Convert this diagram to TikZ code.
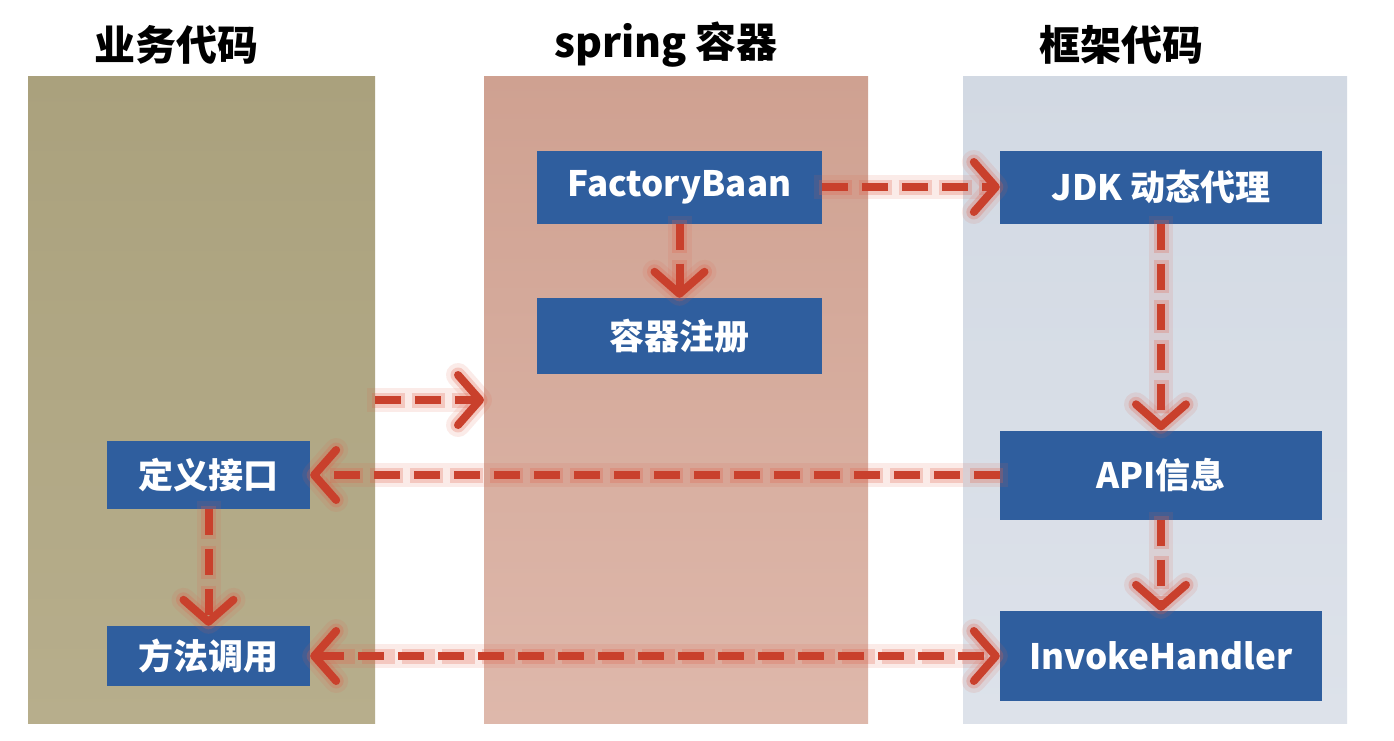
\documentclass[tikz,border=0pt]{standalone}
\usepackage{fontspec}
\newfontfamily\cjk{Noto Sans CJK SC}
\usetikzlibrary{arrows.meta}
\definecolor{boxblue}{HTML}{2F5E9E}
\definecolor{arrred}{HTML}{C9402C}
\definecolor{glowred}{HTML}{E0604A}
\tikzset{
  bluebox/.style={fill=boxblue, text=white, inner sep=0pt, font=\cjk\bfseries\fontsize{35}{40}\selectfont},
  title/.style={text=black, font=\cjk\bfseries\fontsize{41}{46}\selectfont},
  arr/.style={draw=arrred, line width=8pt, dash pattern=on 26pt off 14pt,
    preaction={draw=glowred, line width=24pt, opacity=0.12, solid,
      shorten >=-8pt, shorten <=-8pt},
    preaction={draw=glowred, line width=15pt, opacity=0.25, dash pattern=on 33pt off 7pt,
      shorten >=-3.5pt, shorten <=-3.5pt}},
  tip/.tip={Straight Barb[length=22pt,width=50pt,round]}
}
\begin{document}
\begin{tikzpicture}[x=1pt,y=-1pt]
\useasboundingbox (0,0) rectangle (1394,740);
\fill[white] (0,0) rectangle (1394,740);
% columns
\shade[top color={rgb,255:red,170;green,161;blue,125}, bottom color={rgb,255:red,183;green,174;blue,140}] (28,76) rectangle (375,723);
\shade[top color={rgb,255:red,207;green,161;blue,145}, bottom color={rgb,255:red,222;green,184;blue,171}] (484,76) rectangle (868,723);
\shade[top color={rgb,255:red,210;green,217;blue,227}, bottom color={rgb,255:red,221;green,226;blue,234}] (963,76) rectangle (1347,723);
% titles
\node[title] (t1) at (176,45) {业务代码};
\node[title] (t2) at (666,45) {spring 容器};
\node[title] (t3) at (1121,45) {框架代码};
% boxes
\node[bluebox, minimum width=285pt, minimum height=73pt] (fb) at (679.5,187) {FactoryBaan};
\node[bluebox, minimum width=285pt, minimum height=76pt] (reg) at (679.5,336) {容器注册};
\node[bluebox, minimum width=322pt, minimum height=73pt] (jdk) at (1161,187) {JDK 动态代理};
\node[bluebox, minimum width=322pt, minimum height=89pt] (api) at (1161,475) {API信息};
\node[bluebox, minimum width=322pt, minimum height=90pt] (inv) at (1161,656) {InvokeHandler};
\node[bluebox, minimum width=203pt, minimum height=68pt] (def) at (208.5,475) {定义接口};
\node[bluebox, minimum width=203pt, minimum height=60pt] (call) at (208.5,656) {方法调用};
% free arrow
\coordinate (fa) at (375,400);
\coordinate (fb2) at (484,400);
% arrows
\draw[arr, -{tip}] (fb.east) -- (jdk.west);
\draw[arr, -{tip}] (fb.south) -- (reg.north);
\draw[arr, -{tip}] (jdk.south) -- (api.north);
\draw[arr, -{tip}] (fa) -- (fb2);
\draw[arr, -{tip}] (api.west) -- (def.east);
\draw[arr, -{tip}] (def.south) -- (call.north);
\draw[arr, -{tip}] (api.south) -- (inv.north);
\draw[arr, {tip}-{tip}] (call.east) -- (inv.west);
\end{tikzpicture}
\end{document}
